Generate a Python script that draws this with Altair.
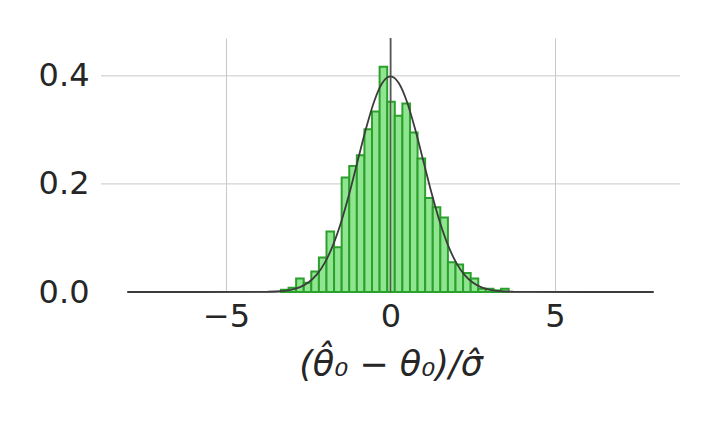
import altair as alt
import pandas as pd

# ---- data ----
bin_start = -3.33
bin_width = 0.2307
heights = [0.004, 0.008, 0.025, 0.017, 0.038, 0.064, 0.112, 0.083, 0.212, 0.233,
           0.253, 0.301, 0.334, 0.417, 0.352, 0.326, 0.349, 0.295, 0.247, 0.174,
           0.157, 0.138, 0.055, 0.051, 0.035, 0.025, 0.006, 0.006, 0.003, 0.006]

curve_x = [-8.0, -4.0, -3.75, -3.5, -3.25, -3.0, -2.75, -2.5, -2.25, -2.0, -1.75, -1.5,
           -1.25, -1.0, -0.75, -0.5, -0.25, 0.0, 0.25, 0.5, 0.75, 1.0, 1.25, 1.5,
           1.75, 2.0, 2.25, 2.5, 2.75, 3.0, 3.25, 3.5, 3.75, 4.0, 8.0]
curve_y = [0.0, 0.0001, 0.0004, 0.0009, 0.002, 0.0044, 0.0091, 0.0175, 0.0317, 0.054,
           0.0863, 0.1295, 0.1826, 0.242, 0.3011, 0.3521, 0.3867, 0.3989, 0.3867,
           0.3521, 0.3011, 0.242, 0.1826, 0.1295, 0.0863, 0.054, 0.0317, 0.0175,
           0.0091, 0.0044, 0.002, 0.0009, 0.0004, 0.0001, 0.0]

x_ticks = [-5, 0, 5]
y_ticks = [0.0, 0.2, 0.4]
y_grid = [0.2, 0.4]
base_x = [-8, 8]

x_title = "(\u03b8\u0302\u2080 \u2212 \u03b8\u2080)/\u03c3\u0302"

# ---- tables ----
bars = pd.DataFrame({
    "left": [bin_start + i * bin_width for i in range(len(heights))],
    "height": heights,
})
bars["right"] = bars["left"] + bin_width
curve = pd.DataFrame({"x": curve_x, "y": curve_y})
grid = pd.DataFrame({"y": y_grid})
base = pd.DataFrame({"x": [base_x[0]], "x2": [base_x[1]], "y": [0.0]})
vline = pd.DataFrame({"x": [0.0]})

FONT = "DejaVu Sans"
xscale = alt.Scale(domain=[-8.8, 8.8], nice=False, zero=False)
yscale = alt.Scale(domain=[0, 0.47], nice=False)

xaxis = alt.Axis(values=x_ticks, grid=True, gridColor="#c8c8c8", gridWidth=1,
                 domain=False, ticks=False, labelFontSize=32, labelFont=FONT,
                 labelColor="#262626", labelPadding=9, title=x_title,
                 titleFont=FONT, titleFontSize=35, titleColor="#262626",
                 titleFontWeight="normal", titleFontStyle="italic", titlePadding=15,
                 format="d")
yaxis = alt.Axis(values=y_ticks, grid=False, domain=False, ticks=False,
                 labelFontSize=32, labelFont=FONT, labelColor="#262626",
                 labelPadding=12, format=".1f", title=None)

grid_layer = alt.Chart(grid).mark_rule(color="#c8c8c8", strokeWidth=1).encode(
    y=alt.Y("y:Q", scale=yscale, axis=yaxis)
)

base_layer = alt.Chart(base).mark_rule(color="#555555", strokeWidth=1.2).encode(
    x=alt.X("x:Q", scale=xscale, axis=xaxis),
    x2="x2:Q",
    y=alt.Y("y:Q", scale=yscale),
)

bar_layer = alt.Chart(bars).mark_rect(
    fill="#90e690", stroke="#2ca02c", strokeWidth=2
).encode(
    x=alt.X("left:Q", scale=xscale),
    x2="right:Q",
    y=alt.Y("height:Q", scale=yscale),
    y2=alt.datum(0),
)

vline_layer = alt.Chart(vline).mark_rule(color="#555555", strokeWidth=1.6).encode(
    x=alt.X("x:Q", scale=xscale)
)

curve_layer = alt.Chart(curve).mark_line(
    color="#3c3c3c", strokeWidth=1.8, interpolate="monotone"
).encode(
    x=alt.X("x:Q", scale=xscale),
    y=alt.Y("y:Q", scale=yscale),
)

chart = alt.layer(grid_layer, base_layer, bar_layer, vline_layer, curve_layer).properties(
    width=579,
    height=254,
    background="white",
    padding={"left": 93, "top": 30, "right": 26, "bottom": 110},
    autosize=alt.AutoSizeParams(type="none"),
).configure_view(strokeWidth=0, stroke="transparent")

chart.save("out.html", embed_options={"renderer": "svg", "actions": False})
